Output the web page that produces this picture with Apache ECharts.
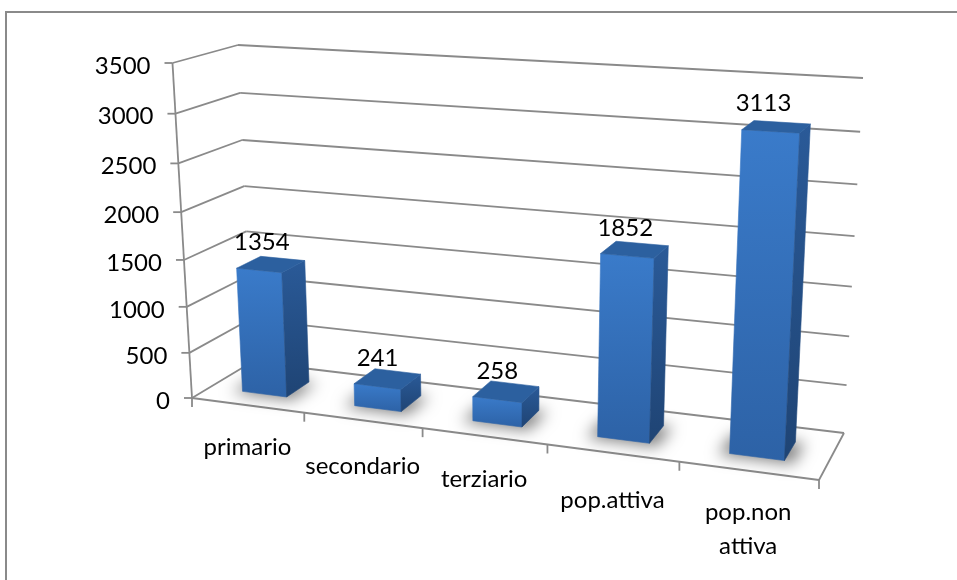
<!DOCTYPE html>
<html><head><meta charset="utf-8">
<style>html,body{margin:0;padding:0;background:#fff}#c{width:957px;height:580px}</style>
<script src="https://cdn.jsdelivr.net/npm/echarts@6/dist/echarts.min.js"></script>
</head><body><div id="c"></div>
<script>
const categories = ['primario','secondario','terziario','pop.attiva','pop.non\nattiva'];
const values = [1354,241,258,1852,3113];
const yTicks = [0,500,1000,1500,2000,2500,3000,3500];

// box corners of the 3D plot: front/back, left/right, bottom/top screen points
const BOX = {
  flb:[192,398], frb:[819,480], blb:[252,362], brb:[844,433],
  flt:[172.5,63], frt:[839,98], blt:[238,45], brt:[863,78]
};
const warp = (t,r)=>t/(t+(1-t)*r);
const GRID = {left:100,top:100,width:500,height:350};
function proj(cx,cy,d){ // pixel on hidden grid -> projected screen point
  const u=warp((cx-GRID.left)/GRID.width,1.146);
  const v=warp((GRID.top+GRID.height-cy)/GRID.height,1.07);
  const L=(a,b,t)=>[a[0]+(b[0]-a[0])*t,a[1]+(b[1]-a[1])*t];
  const fb=L(BOX.flb,BOX.frb,u), ft=L(BOX.flt,BOX.frt,u);
  const bb=L(BOX.blb,BOX.brb,u), bt=L(BOX.blt,BOX.brt,u);
  return L(L(fb,ft,v),L(bb,bt,v),d);
}
const LINE={stroke:'#8a8a8a',lineWidth:1.8};
const TXT={fontFamily:'Lato',fontSize:24,fill:'#000'};
const xDy=[42,46,43,47,42];

function frameItem(params,api){
  const kids=[];
  const n=categories.length;
  const band=api.size([1,0])[0];
  const x0=api.coord([0,0])[0];
  const xL=x0-band/2, xR=xL+band*n;
  const line=(a,b)=>kids.push({type:'line',shape:{x1:a[0],y1:a[1],x2:b[0],y2:b[1]},style:LINE});
  yTicks.forEach(t=>{
    const y=api.coord([0,t])[1];
    const fl=proj(xL,y,0), bl=proj(xL,y,1), br=proj(xR,y,1);
    line(fl,bl); line(bl,br); line([fl[0]-8,fl[1]],fl);
    kids.push({type:'text',style:Object.assign({text:String(t),x:fl[0]-22,y:fl[1]+3,align:'right',verticalAlign:'middle'},TXT)});
  });
  const y0=api.coord([0,0])[1];
  line(proj(xL,y0,0),proj(xL,api.coord([0,3500])[1],0));
  line(proj(xL,y0,0),proj(xR,y0,0));
  line(proj(xR,y0,0),proj(xR,y0,1));
  for(let i=0;i<=n;i++){
    const p=proj(xL+band*i,y0,0);
    line(p,[p[0],p[1]+9]);
  }
  categories.forEach((c,i)=>{
    const p=proj(api.coord([i,0])[0],y0,0);
    kids.push({type:'text',style:Object.assign({text:c,x:p[0],y:p[1]+xDy[i]-17,align:'center',verticalAlign:'top',lineHeight:34},TXT)});
  });
  return {type:'group',children:kids};
}

function barItem(params,api){
  const i=api.value(0), val=api.value(1);
  const c=api.coord([i,val]), c0=api.coord([i,0]);
  const band=api.size([1,0])[0];
  const w=band*0.4;
  const xa=c[0]-w/2, xb=c[0]+w/2, D0=0.3, D1=0.7;
  const P=(x,y,d)=>proj(x,y,d);
  const a0=P(xa,c0[1],D0), b0=P(xb,c0[1],D0), b1=P(xb,c0[1],D1), a1=P(xa,c0[1],D1);
  const a2=P(xa,c[1],D0), b2=P(xb,c[1],D0), b3=P(xb,c[1],D1), a3=P(xa,c[1],D1);
  const grad=(t,b)=>({type:'linear',x:0,y:0,x2:0,y2:1,colorStops:[{offset:0,color:t},{offset:1,color:b}]});
  const poly=(pts,fill,extra)=>({type:'polygon',shape:{points:pts},style:Object.assign({fill:fill,stroke:fill,lineWidth:0.6},extra||{})});
  const lbl=P(c[0],(c[1]+c0[1])/2,D0), top=P(c[0],c[1],D0);
  // soft contact shadow: polygon kept off-canvas, only its blurred shadow lands on the floor
  const OFF=3000, g=band*0.07;
  const sh=[P(xa-g,c0[1],D0-0.05),P(xb+g,c0[1],D0-0.05),P(xb+g,c0[1],D1),P(xa-g,c0[1],D1)].map(p=>[p[0]-OFF,p[1]]);
  return {type:'group',children:[
    poly(sh,'#000',{stroke:null,shadowBlur:15,shadowColor:'rgba(0,0,0,0.5)',shadowOffsetX:OFF,shadowOffsetY:0}),
    poly([a0,b0,b2,a2],grad('#3a7bca','#2d62a6')),
    poly([b0,b1,b3,b2],grad('#2a5a98','#1f4474')),
    poly([a2,b2,b3,a3],'#2c609f'),
    {type:'text',style:Object.assign({text:String(val),x:lbl[0],y:top[1]-28,align:'center',verticalAlign:'middle'},TXT)}
  ]};
}

const chart=echarts.init(document.getElementById('c'),null,{renderer:'canvas'});
chart.setOption({
  animation:false,
  backgroundColor:'#fff',
  graphic:[
    {type:'line',shape:{x1:6,y1:12,x2:957,y2:12},style:{stroke:'#8a8a8a',lineWidth:2},silent:true},
    {type:'line',shape:{x1:6,y1:11,x2:6,y2:580},style:{stroke:'#8a8a8a',lineWidth:2},silent:true}
  ],
  grid:GRID,
  xAxis:{type:'category',data:categories,show:false,boundaryGap:true},
  yAxis:{type:'value',min:0,max:3500,interval:500,show:false},
  series:[
    {type:'custom',data:[[0,0]],renderItem:frameItem,silent:true,z:1,clip:false,encode:{x:0,y:1}},
    {type:'custom',data:values.map((v,i)=>[i,v]),renderItem:barItem,silent:true,z:2,clip:false,encode:{x:0,y:1}}
  ]
});
</script></body></html>
